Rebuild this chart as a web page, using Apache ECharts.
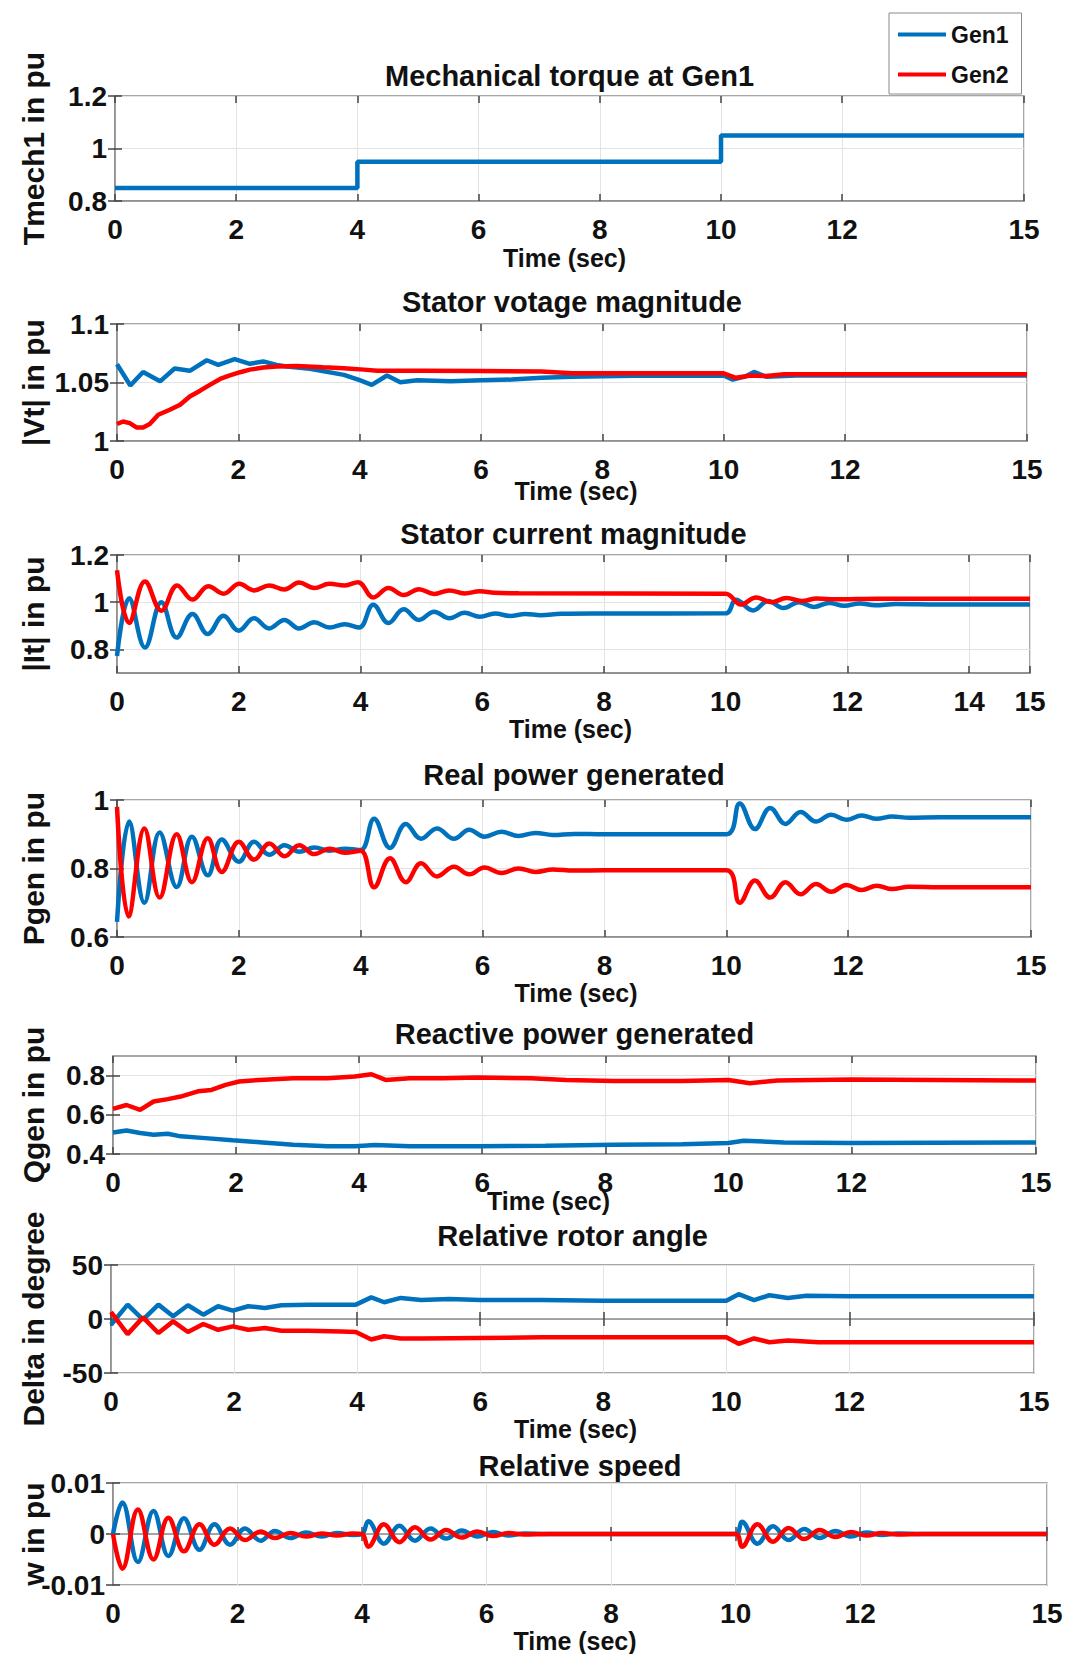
<!DOCTYPE html>
<html><head><meta charset="utf-8">
<script src="https://cdn.jsdelivr.net/npm/echarts@6/dist/echarts.min.js"></script>
<style>html,body{margin:0;padding:0;background:#fff}#c{width:1065px;height:1654px}</style>
</head><body><div id="c"></div>
<script>
// ---------------- DATA ----------------
const seriesNames = ['Gen1', 'Gen2'];
const xTicksStd = [0, 2, 4, 6, 8, 10, 12, 15];
const xTicksIt = [0, 2, 4, 6, 8, 10, 12, 14, 15];

const tmechTicks = [0.8, 1, 1.2];
const vtTicks = [1, 1.05, 1.1];
const itTicks = [0.8, 1, 1.2];
const pgenTicks = [0.6, 0.8, 1];
const qgenTicks = [0.4, 0.6, 0.8];
const deltaTicks = [-50, 0, 50];
const wTicks = [-0.01, 0, 0.01];

const tmechGen1 = [[0,0.85],[4,0.85],[4,0.95],[10,0.95],[10,1.05],[15,1.05]];

const vtGen1 = [[0,1.0656],[0.22,1.0474],[0.43,1.059],[0.71,1.051],[0.95,1.062],[1.2,1.06],[1.48,1.069],[1.67,1.065],[1.94,1.07],[2.19,1.066],[2.41,1.068],[2.63,1.065],[2.8,1.0636],[3.18,1.0617],[3.74,1.0565],[4.0,1.052],[4.2,1.048],[4.45,1.056],[4.67,1.0503],[4.95,1.052],[5.5,1.051],[6.0,1.052],[6.5,1.0525],[7.0,1.054],[7.5,1.055],[8.5,1.0558],[10.0,1.056],[10.15,1.0525],[10.35,1.055],[10.5,1.059],[10.7,1.055],[11.2,1.056],[15,1.056]];
const vtGen2 = [[0,1.0145],[0.1,1.0167],[0.21,1.0153],[0.32,1.0116],[0.43,1.0116],[0.54,1.0145],[0.68,1.0224],[0.87,1.0267],[1.04,1.031],[1.2,1.038],[1.37,1.043],[1.53,1.048],[1.7,1.053],[1.86,1.056],[2.03,1.0588],[2.19,1.061],[2.41,1.0628],[2.63,1.0636],[2.96,1.0642],[3.4,1.063],[3.74,1.0622],[4.07,1.061],[4.29,1.06],[5,1.06],[6,1.0598],[7,1.0595],[7.5,1.058],[10,1.0578],[10.2,1.054],[10.45,1.056],[10.7,1.0555],[11,1.057],[15,1.057]];

const itGen1 = [[0,0.772],[0.2,1.017],[0.46,0.808],[0.73,1.0],[0.98,0.85],[1.24,0.95],[1.49,0.865],[1.75,0.943],[2.0,0.879],[2.25,0.932],[2.5,0.889],[2.75,0.925],[2.99,0.889],[3.24,0.915],[3.49,0.893],[3.74,0.907],[3.98,0.893],[4.21,0.989],[4.46,0.912],[4.71,0.97],[4.96,0.925],[5.21,0.96],[5.46,0.932],[5.71,0.955],[5.96,0.938],[6.21,0.952],[6.46,0.942],[6.71,0.95],[6.96,0.945],[7.3,0.951],[8,0.952],[10,0.953],[10.17,1.01],[10.45,0.965],[10.7,1.005],[10.95,0.975],[11.2,1.0],[11.45,0.98],[11.7,0.997],[11.95,0.985],[12.2,0.995],[12.45,0.987],[12.8,0.992],[13.5,0.99],[15,0.99]];
const itGen2 = [[0,1.135],[0.2,0.912],[0.46,1.088],[0.73,0.964],[0.99,1.071],[1.24,1.011],[1.5,1.068],[1.75,1.036],[2.01,1.078],[2.25,1.05],[2.5,1.071],[2.75,1.054],[2.99,1.083],[3.24,1.06],[3.49,1.078],[3.74,1.071],[3.96,1.085],[4.21,1.02],[4.46,1.06],[4.71,1.03],[4.96,1.055],[5.21,1.035],[5.46,1.05],[5.71,1.037],[5.96,1.046],[6.2,1.04],[6.6,1.038],[10,1.036],[10.25,0.99],[10.5,1.02],[10.75,1.0],[11.0,1.018],[11.25,1.005],[11.5,1.016],[11.8,1.012],[12.5,1.015],[15,1.015]];

const pgenGen1 = [[0,0.644],[0.2,0.937],[0.45,0.70],[0.7,0.905],[0.98,0.746],[1.23,0.893],[1.49,0.78],[1.72,0.885],[2.0,0.82],[2.25,0.878],[2.5,0.84],[2.75,0.868],[2.99,0.849],[3.24,0.861],[3.49,0.852],[3.74,0.858],[4.0,0.854],[4.22,0.945],[4.48,0.86],[4.74,0.93],[4.99,0.887],[5.25,0.917],[5.53,0.887],[5.78,0.913],[6.03,0.893],[6.31,0.907],[6.59,0.895],[6.87,0.904],[7.15,0.898],[7.5,0.901],[8,0.9],[10,0.9],[10.22,0.99],[10.47,0.915],[10.72,0.977],[10.97,0.93],[11.22,0.965],[11.47,0.937],[11.72,0.957],[11.97,0.942],[12.22,0.955],[12.47,0.945],[12.72,0.952],[13,0.948],[13.5,0.95],[15,0.95]];
const pgenGen2 = [[0,0.98],[0.19,0.66],[0.45,0.917],[0.7,0.715],[0.98,0.90],[1.23,0.76],[1.49,0.888],[1.72,0.79],[2.0,0.878],[2.25,0.826],[2.5,0.873],[2.75,0.836],[2.99,0.868],[3.24,0.842],[3.49,0.858],[3.74,0.846],[4.0,0.852],[4.22,0.745],[4.48,0.83],[4.74,0.76],[4.99,0.815],[5.25,0.777],[5.53,0.805],[5.78,0.783],[6.03,0.803],[6.31,0.787],[6.59,0.80],[6.87,0.79],[7.15,0.797],[7.5,0.794],[8,0.795],[10,0.795],[10.22,0.70],[10.47,0.765],[10.72,0.715],[10.97,0.76],[11.22,0.725],[11.47,0.755],[11.72,0.732],[11.97,0.752],[12.22,0.737],[12.47,0.75],[12.72,0.74],[13,0.747],[13.5,0.745],[15,0.745]];

const qgenGen1 = [[0,0.51],[0.22,0.52],[0.44,0.507],[0.66,0.498],[0.89,0.503],[1.1,0.49],[1.5,0.481],[1.94,0.47],[2.38,0.46],[2.93,0.447],[3.49,0.439],[3.93,0.439],[4.26,0.446],[4.82,0.439],[5.92,0.439],[7.03,0.442],[8.14,0.447],[9.25,0.45],[10.0,0.456],[10.25,0.468],[10.9,0.459],[12.0,0.456],[15,0.459]];
const qgenGen2 = [[0,0.63],[0.22,0.65],[0.44,0.625],[0.66,0.668],[0.89,0.68],[1.1,0.693],[1.38,0.72],[1.6,0.727],[1.83,0.753],[2.05,0.77],[2.38,0.778],[2.93,0.786],[3.49,0.786],[3.93,0.795],[4.2,0.807],[4.43,0.778],[4.82,0.786],[5.37,0.786],[5.92,0.79],[6.8,0.786],[7.36,0.778],[8.14,0.773],[9.25,0.773],[10.0,0.778],[10.35,0.761],[10.8,0.775],[12,0.78],[15,0.775]];

const deltaGen1 = [[0,-5.3],[0.27,13.3],[0.52,-0.6],[0.77,13.3],[1.01,2.5],[1.25,12.7],[1.5,4],[1.74,11.8],[1.98,7.8],[2.23,11.8],[2.5,10.2],[2.77,12.7],[3.2,13.3],[3.74,13.3],[3.98,13.3],[4.23,20],[4.44,15.5],[4.71,19.5],[5.04,17.5],[5.5,18.5],[6,17.5],[7,17.5],[8,17],[9,17],[10,17],[10.2,23],[10.45,17.5],[10.7,22],[11,19.5],[11.3,21.5],[12,21],[15,21]];
const deltaGen2 = [[0,6.5],[0.27,-14],[0.52,1.5],[0.77,-13],[1.01,-2.2],[1.25,-12],[1.5,-4.6],[1.74,-10],[1.98,-6.8],[2.23,-10],[2.5,-8.4],[2.77,-10.9],[3.2,-10.9],[3.74,-11.5],[3.98,-12],[4.23,-19],[4.44,-16],[4.71,-18],[5.04,-18],[6,-17.5],[7,-17],[8,-17],[10,-17],[10.2,-23],[10.45,-18],[10.7,-21.5],[11,-20],[11.5,-21.5],[12,-21.5],[15,-21.5]];

const wGen1 = [[0,0],[0.15,0.0062],[0.4,-0.0055],[0.65,0.0045],[0.89,-0.0043],[1.14,0.0031],[1.39,-0.0031],[1.63,0.0019],[1.88,-0.0021],[2.12,0.0011],[2.37,-0.0013],[2.6,0.0006],[2.85,-0.0008],[3.1,0.0003],[3.35,-0.0005],[3.6,0.0002],[3.85,-0.0002],[4.0,0],[4.1,0.0025],[4.35,-0.0019],[4.6,0.0016],[4.85,-0.0013],[5.1,0.0011],[5.35,-0.0009],[5.6,0.0007],[5.85,-0.0005],[6.1,0.0004],[6.35,-0.0003],[6.6,0.0001],[7,0],[10,0],[10.1,0.0024],[10.35,-0.0019],[10.6,0.0015],[10.85,-0.0012],[11.1,0.001],[11.35,-0.0008],[11.6,0.0006],[11.85,-0.0005],[12.1,0.0003],[12.35,-0.0002],[12.6,0.0001],[13,0],[15,0]];
const wGen2 = [[0,0],[0.15,-0.0068],[0.4,0.0048],[0.65,-0.005],[0.89,0.0032],[1.14,-0.0034],[1.39,0.0019],[1.63,-0.0021],[1.88,0.0011],[2.12,-0.0012],[2.37,0.0005],[2.6,-0.0008],[2.85,0.0002],[3.1,-0.0005],[3.35,0.0001],[3.6,-0.0003],[3.85,0.0001],[4.0,0],[4.1,-0.0025],[4.35,0.0019],[4.6,-0.0016],[4.85,0.0013],[5.1,-0.0011],[5.35,0.0008],[5.6,-0.0007],[5.85,0.0005],[6.1,-0.0004],[6.35,0.0002],[6.6,-0.0001],[7,0],[10,0],[10.1,-0.0025],[10.35,0.0019],[10.6,-0.0015],[10.85,0.0012],[11.1,-0.001],[11.35,0.0008],[11.6,-0.0006],[11.85,0.0004],[12.1,-0.0003],[12.35,0.0002],[12.6,-0.0001],[13,0],[15,0]];

// ---------------- LAYOUT / STYLE ----------------
const FONT = "'Liberation Sans', Arial, Helvetica, sans-serif";
const COLORS = ['#0072BD', '#FF0000'];
const panels = [
  {title:'Mechanical torque at Gen1', yName:'Tmech1 in pu', yMin:0.8, yMax:1.2, yTicks:tmechTicks, xTicks:xTicksStd, lines:[tmechGen1], smooth:false, box:[115,96,1024,201], titleY:76, nameGap:44, namePad:[0,10,0,0]},
  {title:'Stator votage magnitude', yName:'|Vt| in pu', yMin:1, yMax:1.1, yTicks:vtTicks, xTicks:xTicksStd, lines:[vtGen1, vtGen2], smooth:false, box:[117,324,1027,441], titleY:302, nameGap:37, namePad:[0,0,0,8]},
  {title:'Stator current magnitude', yName:'|It| in pu', yMin:0.7, yMax:1.2, yTicks:itTicks, xTicks:xTicksIt, lines:[itGen1, itGen2], smooth:0.4, box:[117,555,1030,673], titleY:534, nameGap:43, namePad:[0,6,0,0]},
  {title:'Real power generated', yName:'Pgen in pu', yMin:0.6, yMax:1, yTicks:pgenTicks, xTicks:xTicksStd, lines:[pgenGen1, pgenGen2], smooth:0.4, box:[117,800,1031,937], titleY:775, nameGap:43, namePad:[0,0,0,4]},
  {title:'Reactive power generated', yName:'Qgen in pu', yMin:0.4, yMax:0.9, yTicks:qgenTicks, xTicks:xTicksStd, lines:[qgenGen1, qgenGen2], smooth:false, box:[113,1056,1036,1154], titleY:1034, nameGap:34, namePad:[0,52,0,0]},
  {title:'Relative rotor angle', yName:'Delta in degree', yMin:-50, yMax:50, yTicks:deltaTicks, xTicks:xTicksStd, lines:[deltaGen1, deltaGen2], smooth:false, box:[111,1265,1034,1373], titleY:1236, nameGap:43, namePad:[0,0,0,6]},
  {title:'Relative speed', yName:'w in pu', yMin:-0.01, yMax:0.01, yTicks:wTicks, xTicks:xTicksStd, lines:[wGen1, wGen2], smooth:0.4, box:[113,1483,1047,1585], titleY:1466, nameGap:43, namePad:[0,10,0,0]}
];

const fmt = v => String(parseFloat(Number(v).toFixed(6)));
const grid = [], xAxis = [], yAxis = [], series = [], graphic = [];
const GRIDC = '#e3e3e3', BOXC = '#8a8a8a', TICKC = '#444';
const lblStyle = {fontFamily: FONT, fontWeight: 'bold', fontSize: 28, color: '#111'};

panels.forEach((p, i) => {
  const [L, T, R, B] = p.box;
  grid.push({left: L, top: T, width: R - L, height: B - T, show: true, borderColor: BOXC, borderWidth: 1.5, backgroundColor: '#fff', containLabel: false, outerBoundsMode: 'none'});
  const xBase = {type: 'value', gridIndex: i, min: 0, max: 15};
  xAxis.push(Object.assign({}, xBase, {
    position: 'bottom',
    name: 'Time (sec)', nameLocation: 'middle', nameGap: p.nameGap, nameMoveOverlap: false,
    nameTextStyle: {fontFamily: FONT, fontWeight: 'bold', fontSize: 25, color: '#111', padding: p.namePad},
    axisLine: {show: true, lineStyle: {color: BOXC, width: 1.5}},
    axisTick: {show: true, inside: true, length: 7, customValues: p.xTicks, lineStyle: {color: TICKC, width: 1.5}},
    axisLabel: Object.assign({show: true, margin: 14, customValues: p.xTicks, formatter: fmt, hideOverlap: false}, lblStyle),
    splitLine: {show: true, lineStyle: {color: GRIDC, width: 1}}
  }));
  xAxis.push(Object.assign({}, xBase, {
    position: 'top',
    axisLine: {show: false},
    axisTick: {show: true, inside: true, length: 7, customValues: p.xTicks, lineStyle: {color: TICKC, width: 1.5}},
    axisLabel: {show: false, customValues: p.xTicks},
    splitLine: {show: false}
  }));
  const yBase = {type: 'value', gridIndex: i, min: p.yMin, max: p.yMax};
  yAxis.push(Object.assign({}, yBase, {
    position: 'left',
    name: p.yName, nameLocation: 'middle', nameRotate: 90, nameGap: L - 32 - 16, nameMoveOverlap: false,
    nameTextStyle: {fontFamily: FONT, fontWeight: 'bold', fontSize: 30, color: '#111'},
    axisLine: {show: true, lineStyle: {color: BOXC, width: 1.5}},
    axisTick: {show: true, inside: true, length: 7, customValues: p.yTicks, lineStyle: {color: TICKC, width: 1.5}},
    axisLabel: Object.assign({show: true, margin: 8, customValues: p.yTicks, formatter: fmt, hideOverlap: false}, lblStyle),
    splitLine: {show: true, lineStyle: {color: GRIDC, width: 1}}
  }));
  yAxis.push(Object.assign({}, yBase, {
    position: 'right',
    axisLine: {show: false},
    axisTick: {show: true, inside: true, length: 7, customValues: p.yTicks, lineStyle: {color: TICKC, width: 1.5}},
    axisLabel: {show: false, customValues: p.yTicks},
    splitLine: {show: false}
  }));
  p.lines.forEach((d, k) => {
    series.push({
      type: 'line', name: seriesNames[k], xAxisIndex: 2 * i, yAxisIndex: 2 * i, data: d,
      symbol: 'none', showSymbol: false, smooth: p.smooth, animation: false, z: 3 + k,
      lineStyle: {width: 4.5, color: COLORS[k]}, itemStyle: {color: COLORS[k]}
    });
  });
  graphic.push({type: 'text', x: (L + R) / 2, y: p.titleY, silent: true,
    style: {text: p.title, align: 'center', verticalAlign: 'middle', fontFamily: FONT, fontWeight: 'bold', fontSize: 29, fill: '#111'}});
});

const chart = echarts.init(document.getElementById('c'), null, {renderer: 'svg', width: 1065, height: 1654});
chart.setOption({
  animation: false,
  backgroundColor: '#fff',
  grid, xAxis, yAxis, series, graphic,
  legend: {
    data: seriesNames, orient: 'vertical', left: 889, top: 13, icon: 'rect', itemWidth: 48, itemHeight: 4,
    itemGap: 17, padding: [10, 13, 8, 9], borderColor: BOXC, borderWidth: 1, backgroundColor: '#fff', selectedMode: false,
    textStyle: {fontFamily: FONT, fontWeight: 'bold', fontSize: 23, color: '#111'}
  }
});
</script>
</body></html>
